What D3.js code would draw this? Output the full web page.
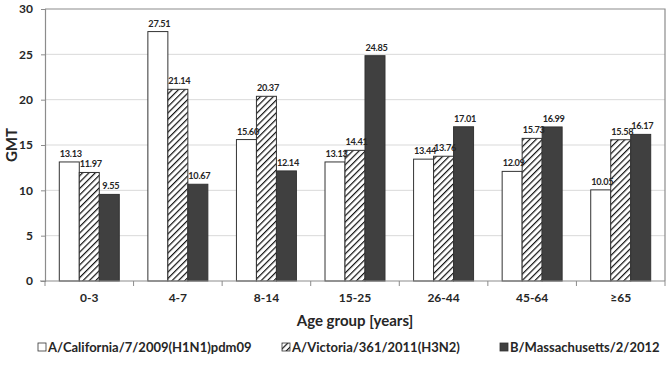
<!DOCTYPE html>
<html><head><meta charset="utf-8">
<script src="https://cdn.jsdelivr.net/npm/d3@7"></script>
<style>body{margin:0;background:#fff}svg{display:block}text{font-family:Lato,"Open Sans",sans-serif;font-weight:bold;fill:#262626}</style>
</head><body><svg id="c" width="671" height="365"></svg>
<script>
const categories = ["0-3","4-7","8-14","15-25","26-44","45-64","≥65"];
const california = [13.13,27.51,15.60,13.13,13.44,12.09,10.05];
const victoria = [11.97,21.14,20.37,14.41,13.76,15.73,15.58];
const massachusetts = [9.55,10.67,12.14,24.85,17.01,16.99,16.17];
const seriesNames = ["A/California/7/2009(H1N1)pdm09","A/Victoria/361/2011(H3N2)","B/Massachusetts/2/2012"];
const yTicks = [0,5,10,15,20,25,30];

const series = [california, victoria, massachusetts];
const fills = ["#ffffff","url(#hatch)","#404040"];
const svg = d3.select("#c");
const L=45,R=665,T=9,B=281;

const defs = svg.append("defs");
const pat = defs.append("pattern").attr("id","hatch").attr("patternUnits","userSpaceOnUse")
  .attr("width",4.5).attr("height",4.5).attr("patternTransform","rotate(45)");
pat.append("rect").attr("width",4.5).attr("height",4.5).attr("fill","#fff");
pat.append("line").attr("x1",0).attr("y1",0).attr("x2",0).attr("y2",4.5).attr("stroke","#111").attr("stroke-width",2.4);

const x = d3.scaleBand().domain(categories).range([L,R]).paddingInner(0).paddingOuter(0);
const xs = d3.scaleBand().domain(d3.range(3)).range([0,x.bandwidth()]).paddingInner(0).paddingOuter(0.715);
const y = d3.scaleLinear().domain([0,30]).range([B,T]);

// gridlines
svg.append("g").selectAll("line").data(yTicks.filter(v=>v>0&&v<30)).join("line")
  .attr("x1",L).attr("x2",R).attr("y1",d=>y(d)).attr("y2",d=>y(d)).attr("stroke","#d9d9d9").attr("stroke-width",1);
// border
svg.append("path").attr("d",`M${L},${T}H${R}V${B}`).attr("fill","none").attr("stroke","#8c8c8c").attr("stroke-width",1.2);

// bars
const g = svg.append("g");
const gl = svg.append("g");
series.forEach((vals,si)=>{
  g.selectAll(null).data(vals).join("rect")
    .attr("x",(d,i)=>x(categories[i])+xs(si))
    .attr("y",d=>y(d)).attr("width",xs.bandwidth()).attr("height",d=>B-y(d))
    .attr("fill",fills[si]).attr("stroke","#333").attr("stroke-width",1);
  gl.selectAll(null).data(vals).join("text")
    .attr("x",(d,i)=>x(categories[i])+xs(si)+xs.bandwidth()/2+1.5)
    .attr("y",d=>y(d)-5).attr("text-anchor","middle").attr("font-size",9.2)
    .attr("letter-spacing",-0.3)
    .text(d=>d.toFixed(2));
});
svg.node().appendChild(gl.node());

// y axis
const ya = svg.append("g").attr("transform",`translate(${L},0)`)
  .call(d3.axisLeft(y).tickValues(yTicks).tickSize(4).tickPadding(8));
ya.selectAll("text").attr("font-size",12).style("font-family","Lato").style("font-weight","bold").attr("fill","#262626");
ya.selectAll("line").attr("stroke","#8c8c8c");
ya.select(".domain").attr("stroke","#8c8c8c").attr("stroke-width",1.2);

// x axis
const xa = svg.append("g").attr("transform",`translate(0,${B})`);
xa.append("line").attr("x1",L-5).attr("x2",R).attr("y1",0).attr("y2",0).attr("stroke","#8c8c8c").attr("stroke-width",1.2);
xa.selectAll("line.t").data(d3.range(categories.length+1)).join("line").attr("class","t")
  .attr("x1",i=>L+i*x.step()).attr("x2",i=>L+i*x.step()).attr("y1",0).attr("y2",5).attr("stroke","#8c8c8c");
xa.selectAll("text").data(categories).join("text")
  .attr("x",d=>x(d)+x.bandwidth()/2).attr("y",21).attr("text-anchor","middle").attr("font-size",12).text(d=>d);

svg.append("text").attr("x",(L+R)/2).attr("y",326).attr("text-anchor","middle").attr("font-size",15).text("Age group [years]");
svg.append("text").attr("transform","translate(17,145) rotate(-90)").attr("text-anchor","middle").attr("font-size",15).text("GMT");

// legend
const legX = [38,282,500];
const lg = svg.append("g");
seriesNames.forEach((n,i)=>{
  lg.append("rect").attr("x",legX[i]).attr("y",343).attr("width",8).attr("height",8)
    .attr("fill",fills[i]).attr("stroke","#333").attr("stroke-width",0.8);
  lg.append("text").attr("x",legX[i]+10).attr("y",352).attr("font-size",13).text(n);
});
</script></body></html>
